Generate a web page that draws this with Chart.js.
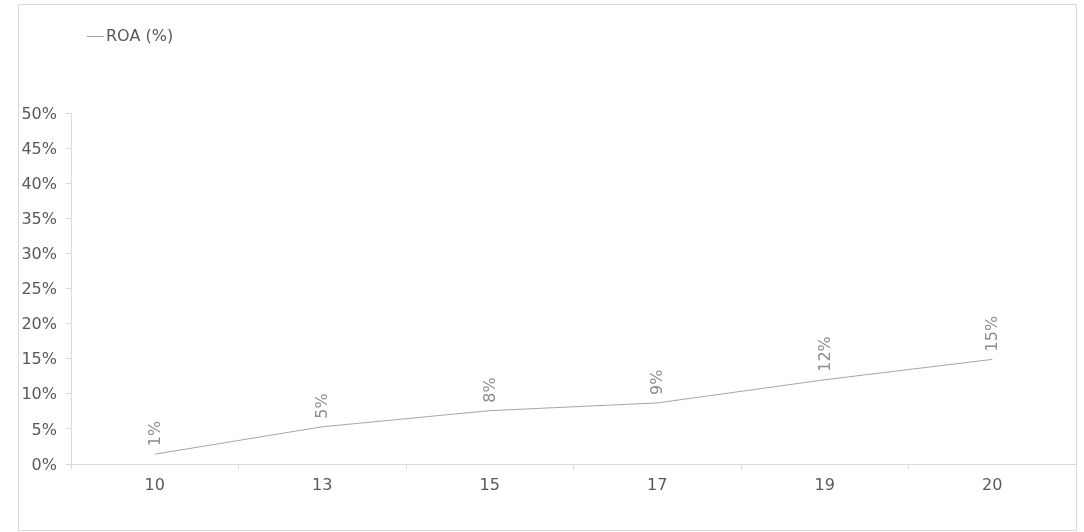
<!DOCTYPE html>
<html>
<head>
<meta charset="utf-8">
<script src="https://cdn.jsdelivr.net/npm/chart.js@4/dist/chart.umd.min.js"></script>
<style>
  html, body { margin: 0; padding: 0; background: #ffffff; }
  #frame { position: absolute; left: 18px; top: 4px; width: 1059px; height: 527px; box-sizing: border-box; border: 1px solid #d9d9d9; }
  canvas { display: block; }
</style>
</head>
<body>
<div id="frame"><canvas id="c" width="1057" height="525"></canvas></div>
<script>
const categories = ['10', '13', '15', '17', '19', '20'];
const roaValues = [1.4, 5.3, 7.6, 8.7, 12.0, 14.9];
const seriesName = 'ROA (%)';
const yTicks = { min: 0, max: 50, step: 5 };

const FONT = 'DejaVu Sans';
const TEXT = '#595959';
const LINE = '#a6a6a6';
const AXIS = '#d9d9d9';

const labelPlugin = {
  id: 'labelsAndLegend',
  afterDatasetsDraw(chart) {
    const ctx = chart.ctx;
    const meta = chart.getDatasetMeta(0);
    const ds = chart.data.datasets[0];
    ctx.save();
    ctx.font = '16px "' + FONT + '"';
    ctx.fillStyle = '#8c8c8c';
    ctx.textAlign = 'left';
    ctx.textBaseline = 'middle';
    meta.data.forEach((pt, i) => {
      ctx.save();
      ctx.translate(pt.x + 1, pt.y - 8);
      ctx.rotate(-Math.PI / 2);
      ctx.fillText(Math.round(ds.data[i]) + '%', 0, 0);
      ctx.restore();
    });
    // legend
    ctx.strokeStyle = LINE;
    ctx.lineWidth = 1;
    ctx.beginPath();
    ctx.moveTo(68, 31.5);
    ctx.lineTo(85, 31.5);
    ctx.stroke();
    ctx.fillStyle = TEXT;
    ctx.fillText(ds.label, 87, 32);
    ctx.restore();
  }
};

new Chart(document.getElementById('c'), {
  type: 'line',
  data: {
    labels: categories,
    datasets: [{
      label: seriesName,
      data: roaValues,
      borderColor: LINE,
      backgroundColor: LINE,
      borderWidth: 1,
      pointRadius: 0,
      tension: 0
    }]
  },
  options: {
    responsive: false,
    animation: false,
    devicePixelRatio: 1,
    layout: { padding: { top: 108, left: 0, right: 0, bottom: 0 } },
    plugins: { legend: { display: false }, tooltip: { enabled: false } },
    scales: {
      x: {
        offset: true,
        afterFit: (s) => { s.height = 66; },
        grid: { offset: true, drawOnChartArea: false, tickLength: 5, color: AXIS },
        border: { color: AXIS },
        ticks: { font: { family: FONT, size: 16 }, color: TEXT, padding: 7, maxRotation: 0 }
      },
      y: {
        min: yTicks.min,
        max: yTicks.max,
        afterFit: (s) => { s.width = 52; },
        grid: { drawOnChartArea: false, tickLength: 5, color: AXIS },
        border: { color: AXIS },
        ticks: {
          stepSize: yTicks.step,
          font: { family: FONT, size: 16 },
          color: TEXT,
          padding: 9,
          labelOffset: 1.5,
          callback: (v) => v + '%'
        }
      }
    }
  },
  plugins: [labelPlugin]
});
</script>
</body>
</html>
